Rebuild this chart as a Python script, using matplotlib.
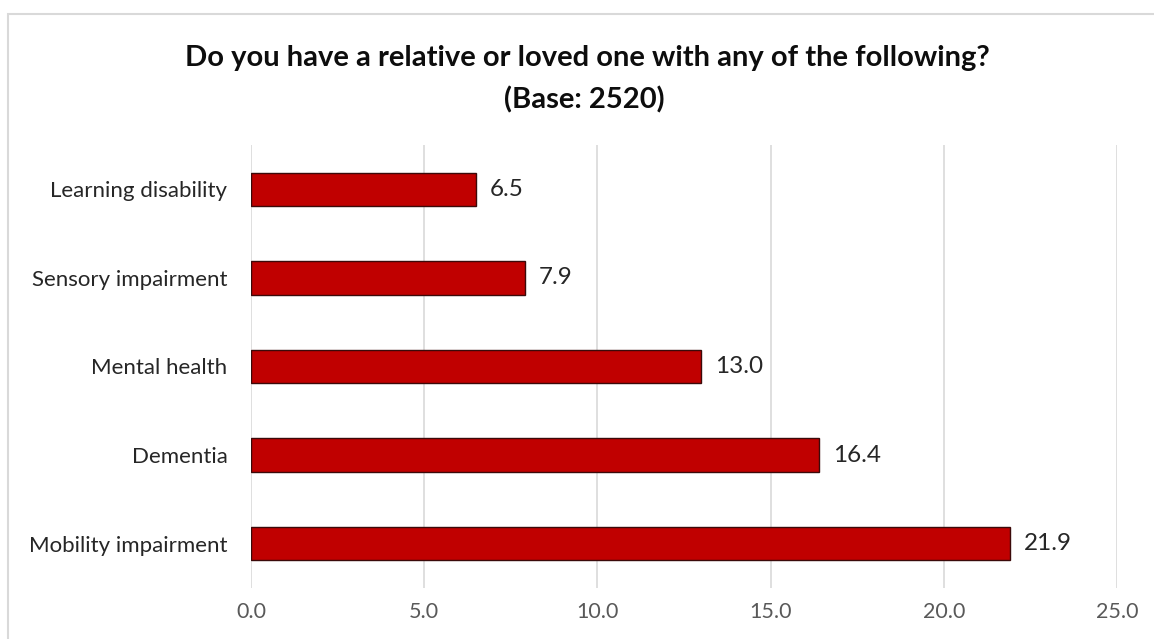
import matplotlib.pyplot as plt
from matplotlib.patches import Rectangle

categories = ['Mobility impairment', 'Dementia', 'Mental health',
              'Sensory impairment', 'Learning disability']
values = [21.9, 16.4, 13.0, 7.9, 6.5]
xticks = [0, 5, 10, 15, 20, 25]

plt.rcParams['font.family'] = ['Lato', 'DejaVu Sans']

fig = plt.figure(figsize=(11.54, 6.39), dpi=100)
ax = fig.add_axes([0.2175, 0.08, 0.7505, 0.693])

# outer chart border (cut off at right and bottom like the screenshot)
fig.patches.append(Rectangle((8 / 1154, -0.1), 1.2, 1 - 14 / 639 + 0.1,
                             transform=fig.transFigure, fill=False,
                             edgecolor='#d9d9d9', linewidth=1.5))

ypos = range(len(categories))
ax.barh(ypos, values, height=0.375, color='#c00000',
        edgecolor='#3b0a0a', linewidth=1.0, zorder=3)
for y, v in zip(ypos, values):
    ax.text(v + 0.4, y, f'{v:.1f}', va='center', ha='left',
            fontsize=17.5, color='#262626')

ax.set_xlim(0, 25)
ax.set_ylim(-0.5, 4.5)
ax.set_xticks(xticks)
ax.set_xticklabels([f'{t:.1f}' for t in xticks], fontsize=15.5, color='#595959')
ax.set_yticks(list(ypos))
ax.set_yticklabels(categories, fontsize=16, color='#262626')
ax.tick_params(axis='x', length=0, pad=10)
ax.tick_params(axis='y', length=0, pad=17)
ax.grid(axis='x', color='#d9d9d9', linewidth=1.2, zorder=0)
for s in ax.spines.values():
    s.set_visible(False)

fig.text(0.509, 1 - 58 / 639,
         'Do you have a relative or loved one with any of the following?',
         ha='center', va='center', fontsize=21, fontweight='bold', color='#0d0d0d')
fig.text(0.506, 1 - 100 / 639, '(Base: 2520)',
         ha='center', va='center', fontsize=21, fontweight='bold', color='#0d0d0d')

fig.savefig('out.png', dpi=100)
